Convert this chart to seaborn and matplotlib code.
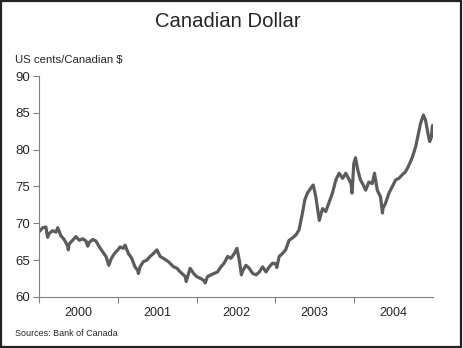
import matplotlib
matplotlib.use("Agg")
import matplotlib.pyplot as plt
from matplotlib.patches import Rectangle
import pandas as pd
import seaborn as sns

# Canadian dollar in US cents, sampled about twice a month plus notable highs/lows
dates = [
    "2000-01-03", "2000-01-18", "2000-02-02", "2000-02-10", "2000-02-17", "2000-03-04",
    "2000-03-20", "2000-03-28", "2000-04-12", "2000-04-27", "2000-05-13", "2000-05-16",
    "2000-05-20", "2000-06-05", "2000-06-20", "2000-07-06", "2000-07-22", "2000-08-06",
    "2000-08-14", "2000-08-21", "2000-09-06", "2000-09-21", "2000-10-07", "2000-10-23",
    "2000-11-07", "2000-11-20", "2000-12-01", "2000-12-16", "2001-01-01",
    "2001-01-11", "2001-01-26", "2001-02-03", "2001-02-19", "2001-03-06", "2001-03-21",
    "2001-04-03", "2001-04-06", "2001-04-14", "2001-04-29", "2001-05-15", "2001-05-30",
    "2001-06-15", "2001-07-01", "2001-07-16", "2001-07-31", "2001-08-23", "2001-09-16",
    "2001-10-02", "2001-10-17", "2001-11-09", "2001-11-14", "2001-12-02", "2001-12-18",
    "2002-01-02", "2002-01-21", "2002-02-05", "2002-02-10", "2002-02-20", "2002-03-08",
    "2002-03-23", "2002-04-08", "2002-04-24", "2002-05-09", "2002-05-25", "2002-06-09",
    "2002-06-25", "2002-07-07", "2002-07-18", "2002-07-28", "2002-08-02", "2002-08-18",
    "2002-09-02", "2002-09-18", "2002-10-04", "2002-10-19", "2002-11-03", "2002-11-19",
    "2002-12-04", "2002-12-20",
    "2003-01-03", "2003-01-08", "2003-01-19", "2003-02-03", "2003-02-18", "2003-03-06",
    "2003-03-21", "2003-04-06", "2003-04-21", "2003-05-07", "2003-05-18", "2003-05-30",
    "2003-06-14", "2003-06-26", "2003-07-08", "2003-07-20", "2003-07-24", "2003-08-08",
    "2003-08-23", "2003-09-08", "2003-09-23", "2003-10-09", "2003-10-24", "2003-11-09",
    "2003-11-24", "2003-12-10", "2003-12-18", "2003-12-23", "2003-12-31",
    "2004-01-08", "2004-01-19", "2004-01-31", "2004-02-13", "2004-02-24", "2004-03-10",
    "2004-03-26", "2004-04-05", "2004-04-18", "2004-05-03", "2004-05-12", "2004-05-14",
    "2004-05-26", "2004-06-11", "2004-06-27", "2004-07-12", "2004-07-27", "2004-08-12",
    "2004-08-27", "2004-09-12", "2004-09-28", "2004-10-13", "2004-10-26", "2004-11-05",
    "2004-11-18", "2004-11-28", "2004-12-09", "2004-12-17", "2004-12-25", "2004-12-29",
    "2004-12-31",
]
cents = [
    68.9, 69.4, 69.5, 68.1, 68.6, 69.0,
    68.8, 69.4, 68.3, 67.8, 66.9, 66.4,
    67.2, 67.7, 68.2, 67.7, 67.9, 67.6,
    66.9, 67.4, 67.8, 67.6, 66.8, 66.1,
    65.5, 64.3, 65.2, 65.9, 66.4,
    66.8, 66.6, 67.05, 65.9, 65.25, 64.1,
    63.6, 63.2, 64.1, 64.8, 65.0, 65.5,
    65.9, 66.4, 65.5, 65.25, 64.8, 64.1,
    63.9, 63.4, 62.8, 62.1, 63.9, 63.2,
    62.75, 62.5, 62.2, 61.9, 62.75, 63.0,
    63.2, 63.4, 64.1, 64.6, 65.5, 65.25,
    65.9, 66.6, 65.0, 63.0, 63.5, 64.3,
    63.9, 63.2, 63.0, 63.4, 64.1, 63.4,
    64.1, 64.6,
    64.5, 64.0, 65.5, 65.9, 66.4, 67.7,
    68.0, 68.4, 69.1, 71.4, 73.2, 74.1,
    74.75, 75.2, 73.6, 71.2, 70.4, 72.0,
    71.6, 72.9, 74.1, 75.9, 76.8, 76.1,
    76.8, 75.9, 75.4, 74.1, 78.1,
    78.9, 77.2, 75.9, 75.2, 74.5, 75.6,
    75.4, 76.8, 74.5, 73.6, 71.4, 72.0,
    72.7, 74.1, 75.0, 75.9, 76.1, 76.6,
    77.0, 77.9, 79.0, 80.4, 82.2, 83.6,
    84.7, 84.0, 82.2, 81.1, 81.7, 83.1,
    83.3,
]
years = ["2000", "2001", "2002", "2003", "2004"]
y_ticks = [60, 65, 70, 75, 80, 85, 90]

df = pd.DataFrame({"date": pd.to_datetime(dates), "cents": cents})

sns.set_style("ticks")
plt.rcParams["font.family"] = ["Liberation Sans", "DejaVu Sans"]

fig = plt.figure(figsize=(4.63, 3.48), dpi=100)
ax = fig.add_axes([0.0842, 0.1466, 0.8508, 0.635])

sns.lineplot(data=df, x="date", y="cents", ax=ax, color="#5c5c5c",
             linewidth=2.3, estimator=None)

ax.set_xlim(pd.Timestamp("2000-01-01"), pd.Timestamp("2005-01-01"))
ax.set_ylim(60, 90)
ax.set_yticks(y_ticks)
ax.set_yticklabels([str(v) for v in y_ticks], fontsize=9.5)

# year boundaries get tick marks, year names sit mid-year without marks
ax.set_xticks([pd.Timestamp(f"{y}-01-01") for y in years])
ax.set_xticklabels([])
ax.set_xticks([pd.Timestamp(f"{y}-07-02") for y in years], minor=True)
ax.set_xticklabels(years, minor=True, fontsize=9)
ax.tick_params(axis="x", which="minor", length=0, pad=7)
ax.tick_params(axis="x", which="major", length=4, width=0.8, color="#808080")
ax.tick_params(axis="y", length=4, width=0.8, color="#808080", pad=2.5)

ax.set_xlabel("")
ax.set_ylabel("")
for side in ("top", "right"):
    ax.spines[side].set_visible(False)
for side in ("left", "bottom"):
    ax.spines[side].set_color("#808080")
    ax.spines[side].set_linewidth(0.8)

fig.text(0.492, 0.937, "Canadian Dollar", ha="center", va="center", fontsize=14.6)
fig.text(0.032, 0.828, "US cents/Canadian $", ha="left", va="center", fontsize=8.2)
fig.text(0.032, 0.043, "Sources: Bank of Canada", ha="left", va="center", fontsize=6.5)

fig.patches.append(Rectangle((0.003, 0.004), 0.992, 0.992, transform=fig.transFigure,
                             fill=False, edgecolor="#222222", linewidth=1.6))

fig.savefig("out.png", dpi=100, facecolor="white")
